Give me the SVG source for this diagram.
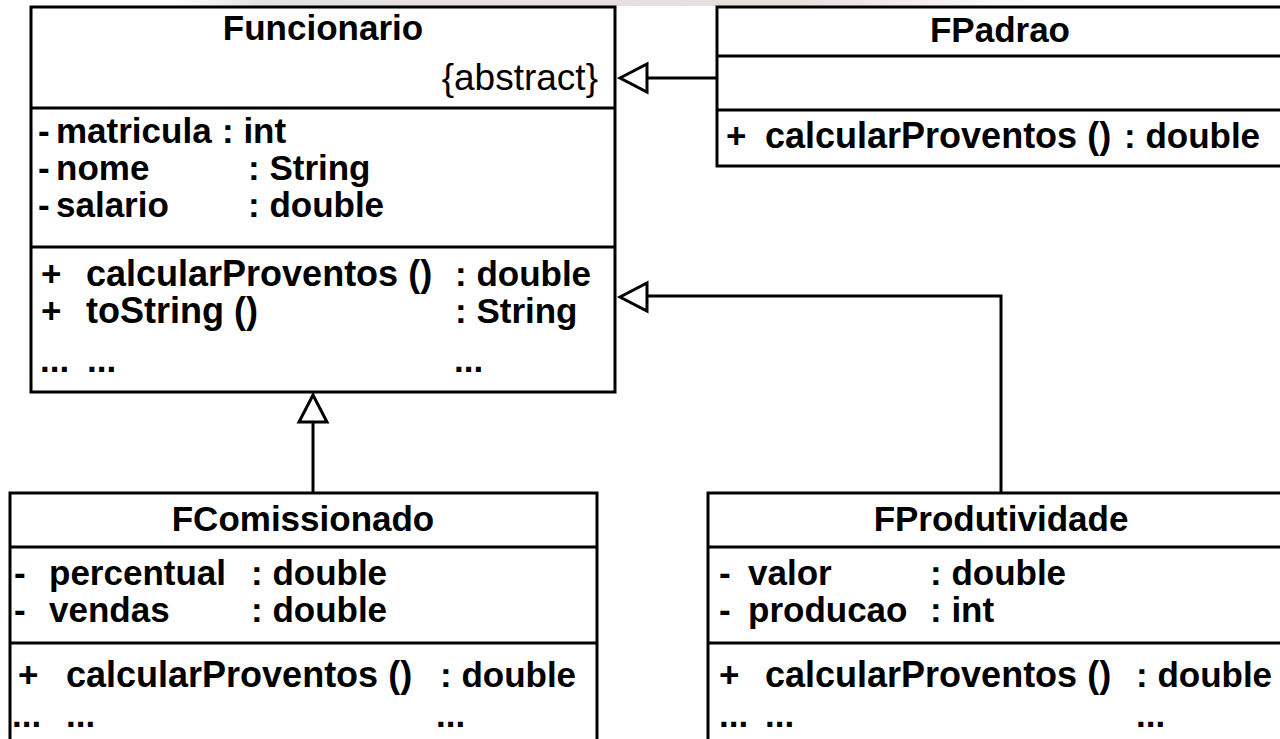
<svg xmlns="http://www.w3.org/2000/svg" width="1280" height="739" viewBox="0 0 1280 739">
  <defs>
    <style>
      .box { fill: #ffffff; stroke: #000000; stroke-width: 3; }
      .sep { stroke: #000000; stroke-width: 3; }
      .edge { fill: none; stroke: #000000; stroke-width: 3; }
      .head { fill: #ffffff; stroke: #000000; stroke-width: 3; stroke-linejoin: miter; }
      text { font-family: "Liberation Sans", Arial, sans-serif; font-weight: bold; font-size: 35px; fill: #000000; }
      .title { text-anchor: middle; }
      .op { font-size: 36px; }
      .tag { font-weight: normal; font-size: 37px; text-anchor: end; }
    </style>
    <linearGradient id="band" x1="0" y1="0" x2="1" y2="0">
      <stop offset="0" stop-color="#e6e6e6" stop-opacity="0"/>
      <stop offset="0.1" stop-color="#e4e2e2"/>
      <stop offset="0.7" stop-color="#e8dede"/>
      <stop offset="1" stop-color="#ece4e4" stop-opacity="0"/>
    </linearGradient>
  </defs>

  <rect width="1280" height="739" fill="#ffffff"/>
  <rect x="170" y="0" width="890" height="6" fill="url(#band)"/>

  <!-- generalisation connectors -->
  <g id="connectors">
    <path class="edge" d="M717 78 H647"/>
    <polygon class="head" points="620,78 647,64 647,92"/>
    <path class="edge" d="M1001 493 V296 H647"/>
    <polygon class="head" points="620,297 647,283 647,311"/>
    <path class="edge" d="M313 493 V422"/>
    <polygon class="head" points="313,395 299,422 327,422"/>
  </g>

  <!-- abstract base class -->
  <g id="Funcionario">
    <rect class="box" x="31" y="7" width="584" height="385"/>
    <line class="sep" x1="31" y1="108" x2="615" y2="108"/>
    <line class="sep" x1="31" y1="247" x2="615" y2="247"/>
    <text class="title" x="323" y="40">Funcionario</text>
    <text class="tag" x="598" y="90">{abstract}</text>
    <text x="38" y="143">-</text><text x="56" y="143">matricula</text><text x="222" y="143">: int</text>
    <text x="38" y="180">-</text><text x="56" y="180">nome</text><text x="248" y="180">: String</text>
    <text x="38" y="217">-</text><text x="56" y="217">salario</text><text x="248" y="217">: double</text>
    <text x="41" y="286">+</text><text class="op" x="86" y="286">calcularProventos ()</text><text x="455" y="286">: double</text>
    <text x="41" y="323">+</text><text class="op" x="86" y="323">toString ()</text><text x="455" y="323">: String</text>
    <text x="40" y="372">...</text><text x="87" y="372">...</text><text x="454" y="372">...</text>
  </g>

  <g id="FPadrao">
    <rect class="box" x="717" y="7" width="580" height="159"/>
    <line class="sep" x1="717" y1="56" x2="1297" y2="56"/>
    <line class="sep" x1="717" y1="110" x2="1297" y2="110"/>
    <text class="title" x="1000" y="42">FPadrao</text>
    <text x="726" y="148">+</text><text class="op" x="765" y="148">calcularProventos ()</text><text x="1124" y="148">: double</text>
  </g>

  <g id="FComissionado">
    <rect class="box" x="10" y="493" width="587" height="260"/>
    <line class="sep" x1="10" y1="547" x2="597" y2="547"/>
    <line class="sep" x1="10" y1="643" x2="597" y2="643"/>
    <text class="title" x="303" y="531">FComissionado</text>
    <text x="14" y="585">-</text><text x="49" y="585">percentual</text><text x="251" y="585">: double</text>
    <text x="14" y="622">-</text><text x="49" y="622">vendas</text><text x="251" y="622">: double</text>
    <text x="18" y="687">+</text><text class="op" x="66" y="687">calcularProventos ()</text><text x="440" y="687">: double</text>
    <text x="12" y="727">...</text><text x="66" y="727">...</text><text x="436" y="727">...</text>
  </g>

  <g id="FProdutividade">
    <rect class="box" x="708" y="493" width="590" height="260"/>
    <line class="sep" x1="708" y1="547" x2="1298" y2="547"/>
    <line class="sep" x1="708" y1="643" x2="1298" y2="643"/>
    <text class="title" x="1001" y="531">FProdutividade</text>
    <text x="719" y="585">-</text><text x="748" y="585">valor</text><text x="930" y="585">: double</text>
    <text x="719" y="622">-</text><text x="748" y="622">producao</text><text x="930" y="622">: int</text>
    <text x="719" y="687">+</text><text class="op" x="765" y="687">calcularProventos ()</text><text x="1136" y="687">: double</text>
    <text x="719" y="727">...</text><text x="765" y="727">...</text><text x="1136" y="727">...</text>
  </g>
</svg>
